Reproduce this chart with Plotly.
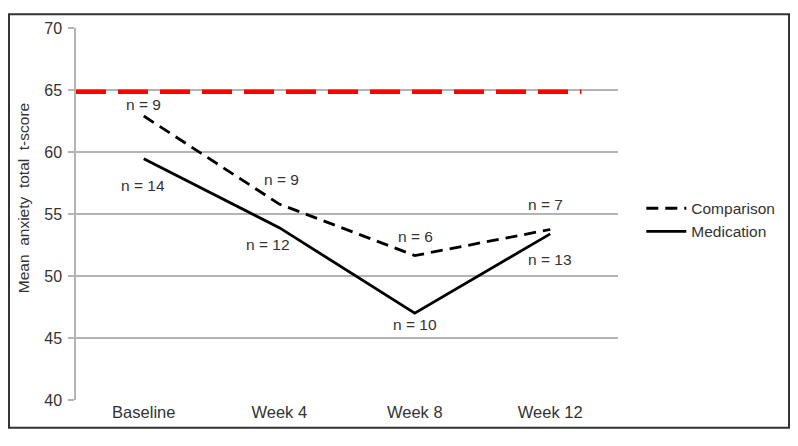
import plotly.graph_objects as go

categories = ["Baseline", "Week 4", "Week 8", "Week 12"]
comparison = [62.9, 55.8, 51.65, 53.75]
medication = [59.45, 53.9, 47.0, 53.4]
comparison_n = [9, 9, 6, 7]
medication_n = [14, 12, 10, 13]
threshold = 64.85
threshold_span = [-0.5, 3.23]
y_ticks = [40, 45, 50, 55, 60, 65, 70]
y_title = "Mean\u00a0 anxiety\u00a0 total\u00a0 t-score"

# label offsets in pixels (dx, dy) – styling only
comp_off = [(0, 12), (2, 25), (1, 19), (-5, 25)]
med_off = [(-1, -27), (-11, -17), (0, -11), (0, -26)]

FONT = "Arial, Liberation Sans, sans-serif"
TXT = "#333333"
xs = list(range(len(categories)))

fig = go.Figure()
fig.add_trace(go.Scatter(
    x=threshold_span, y=[threshold, threshold], mode="lines",
    line=dict(color="#ff0000", width=4.5, dash="30px,12px"),
    showlegend=False, hoverinfo="skip"))
fig.add_trace(go.Scatter(
    x=xs, y=comparison, mode="lines", name="Comparison",
    line=dict(color="black", width=2.8, dash="12px,7px")))
fig.add_trace(go.Scatter(
    x=xs, y=medication, mode="lines", name="Medication",
    line=dict(color="black", width=2.8)))

annotations = []
for i, (v, n) in enumerate(zip(comparison, comparison_n)):
    dx, dy = comp_off[i]
    annotations.append(dict(x=xs[i], y=v, text=f"n = {n}", showarrow=False,
                            xshift=dx, yshift=dy, font=dict(size=15.5, color=TXT, family=FONT)))
for i, (v, n) in enumerate(zip(medication, medication_n)):
    dx, dy = med_off[i]
    annotations.append(dict(x=xs[i], y=v, text=f"n = {n}", showarrow=False,
                            xshift=dx, yshift=dy, font=dict(size=15.5, color=TXT, family=FONT)))
annotations.append(dict(xref="paper", yref="paper", x=(15 - 68) / 542, y=(392 - 187.5) / 377,
                        text=y_title, textangle=-90, showarrow=False,
                        xanchor="center", yanchor="middle",
                        font=dict(size=15.5, color=TXT, family=FONT)))

fig.update_layout(
    width=798, height=446,
    margin=dict(l=68, r=188, t=15, b=54),
    paper_bgcolor="white", plot_bgcolor="white",
    font=dict(family=FONT, color=TXT, size=15.5),
    annotations=annotations,
    legend=dict(x=1.043, y=0.56, xanchor="left", yanchor="top",
                font=dict(size=15.5, color=TXT), tracegroupgap=0,
                itemwidth=40, bgcolor="rgba(0,0,0,0)"),
    shapes=[dict(type="rect", xref="paper", yref="paper",
                 x0=(1 - 68) / 542, x1=(781 - 68) / 542,
                 y0=(392 - 420) / 377, y1=(392 - 1) / 377,
                 line=dict(color="#333333", width=2))],
    xaxis=dict(range=[-0.5, 3.5], tickmode="array", tickvals=xs, ticktext=categories,
               showgrid=False, showline=False, zeroline=False, ticks="",
               tickfont=dict(size=16.5, color=TXT)),
    yaxis=dict(range=[40, 70], tickmode="array", tickvals=y_ticks,
               showgrid=True, gridcolor="#b4b4b4", gridwidth=1.5,
               showline=True, linecolor="#b4b4b4", linewidth=1.5,
               zeroline=False, ticks="outside", ticklen=6, tickcolor="#b4b4b4",
               tickwidth=1.5, ticklabelstandoff=3, tickfont=dict(size=16, color=TXT)),
)

fig.write_html("out.html")
